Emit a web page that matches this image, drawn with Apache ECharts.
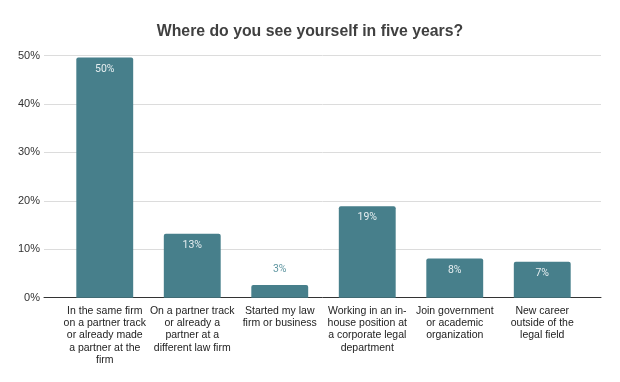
<!DOCTYPE html>
<html>
<head>
<meta charset="utf-8">
<script src="https://cdn.jsdelivr.net/npm/echarts@6/dist/echarts.min.js"></script>
<style>html,body{margin:0;padding:0;background:#fff}#c{width:620px;height:382px}</style>
</head>
<body>
<div id="c"></div>
<script>
var titleText = 'Where do you see yourself in five years?';
var categories = [
  'In the same firm\non a partner track\nor already made\na partner at the\nfirm',
  'On a partner track\nor already a\npartner at a\ndifferent law firm',
  'Started my law\nfirm or business',
  'Working in an in-\nhouse position at\na corporate legal\ndepartment',
  'Join government\nor academic\norganization',
  'New career\noutside of the\nlegal field'
];
var values = [49.6, 13.2, 2.6, 18.9, 8.1, 7.4];
var yTicks = [0, 10, 20, 30, 40, 50];

var barColor = '#477f8b';
var chart = echarts.init(document.getElementById('c'));
var data = values.map(function (v) {
  var small = v < 5;
  return {
    value: v,
    label: small ? { position: 'top', distance: 10, color: '#5f96a1' } : { position: 'insideTop', distance: 6, color: '#e6eef0' }
  };
});
chart.setOption({
  animation: false,
  title: {
    text: titleText, left: 'center', top: 19,
    textStyle: { fontFamily: 'Liberation Sans', fontWeight: 'bold', fontSize: 15.8, color: '#404040' }
  },
  grid: [
    { left: 61, right: 34, top: 55.5, bottom: 84.3 },
    { left: 44, right: 19, top: 55.5, bottom: 84.3 }
  ],
  xAxis: [
    {
      type: 'category', gridIndex: 0, data: categories,
      axisLine: { show: false }, axisTick: { show: false },
      axisLabel: { interval: 0, margin: 7, lineHeight: 12.3, fontFamily: 'Liberation Sans', fontSize: 10.5, color: '#222' }
    },
    {
      type: 'value', gridIndex: 1, min: 0, max: 1,
      axisLine: { show: true, lineStyle: { color: '#333', width: 1 } },
      axisTick: { show: false }, axisLabel: { show: false }, splitLine: { show: false }
    }
  ],
  yAxis: [
    { type: 'value', gridIndex: 0, min: yTicks[0], max: yTicks[yTicks.length - 1], interval: 10, show: false },
    {
      type: 'value', gridIndex: 1, min: yTicks[0], max: yTicks[yTicks.length - 1], interval: 10,
      axisLine: { show: false }, axisTick: { show: false },
      axisLabel: { margin: 4, formatter: '{value}%', fontFamily: 'Liberation Sans', fontSize: 11, color: '#333' },
      splitLine: { lineStyle: { color: '#dcdcdc', width: 1 } }
    }
  ],
  series: [{
    type: 'bar', xAxisIndex: 0, yAxisIndex: 0, data: data,
    barCategoryGap: '35%',
    itemStyle: { color: barColor, borderRadius: [2, 2, 0, 0] },
    label: {
      show: true, fontFamily: 'Roboto', fontSize: 10.5,
      formatter: function (p) { return Math.round(p.value) + '%'; }
    }
  }]
});
</script>
</body>
</html>
